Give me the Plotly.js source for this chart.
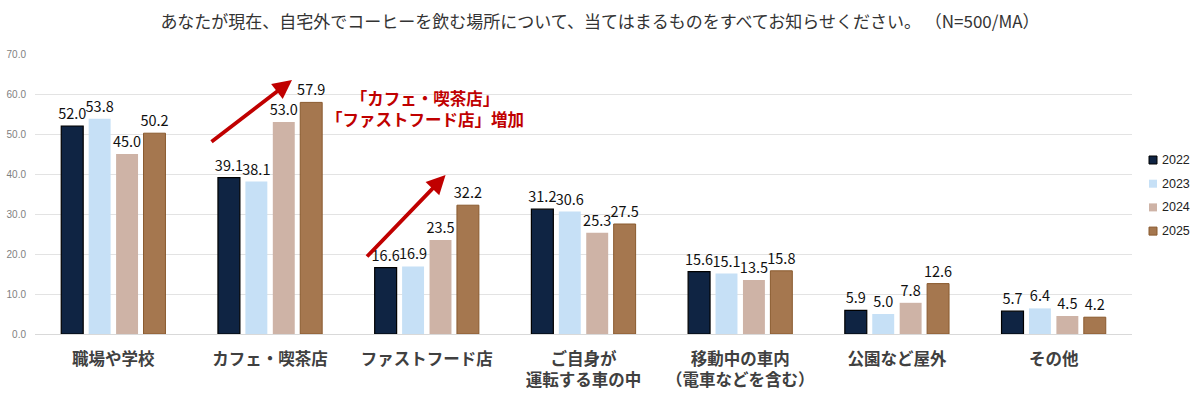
<!DOCTYPE html>
<html><head><meta charset="utf-8">
<script src="https://cdn.plot.ly/plotly-3.0.1.min.js"></script>
<style>html,body{margin:0;padding:0;background:#fff;}#chart{width:1200px;height:399px;}</style>
</head><body><div id="chart"></div>
<script>
const categories = ["職場や学校","カフェ・喫茶店","ファストフード店","ご自身が<br>運転する車の中","移動中の車内<br>（電車などを含む）","公園など屋外","その他"];
const years = ["2022","2023","2024","2025"];
const v2022 = [52.0,39.1,16.6,31.2,15.6,5.9,5.7];
const v2023 = [53.8,38.1,16.9,30.6,15.1,5.0,6.4];
const v2024 = [45.0,53.0,23.5,25.3,13.5,7.8,4.5];
const v2025 = [50.2,57.9,32.2,27.5,15.8,12.6,4.2];
const series = [v2022,v2023,v2024,v2025];
const colors = ["#0f2443","#c6e0f6","#ceb3a6","#a5774f"];
const lineColors = ["#000000","#c6e0f6","#ceb3a6","#8a5a2e"];
const lineWidths = [1.2,0,0,1];
const font = '"Noto Sans CJK JP","Noto Sans",sans-serif';

const W = 1200, H = 399, M = {l:35, r:68, t:54, b:65};
const pw = W - M.l - M.r, ph = H - M.t - M.b;

const traces = series.map((vals,i)=>({
  type:'bar', name:years[i], x:categories, y:vals, showlegend:false,
  marker:{color:colors[i], line:{color:lineColors[i], width:lineWidths[i]}},
  text:vals.map(v=>v.toFixed(1)), textposition:'outside', constraintext:'none', cliponaxis:false,
  textfont:{family:font, size:14.5, color:'#111'},
  hoverinfo:'skip'
}));

// manual legend built from years/colors
const legendShapes = [], legendAnns = [];
years.forEach((yr,i)=>{
  const cy = 160 + i*23.7;
  const px2x = px => (px - M.l)/pw;
  const py2y = py => (H - M.b - py)/ph;
  legendShapes.push({type:'rect', xref:'paper', yref:'paper', x0:px2x(1149), x1:px2x(1157), y0:py2y(cy+4), y1:py2y(cy-4),
    fillcolor:colors[i], line:{color:lineColors[i], width:lineWidths[i] ? 1 : 0}});
  legendAnns.push({xref:'paper', yref:'paper', x:px2x(1160), y:py2y(cy), xanchor:'left', yanchor:'middle', showarrow:false,
    text:yr, font:{family:'"Liberation Sans", Arial, sans-serif', size:12.5, color:'#222'}});
});

const layout = {
  width:W, height:H,
  margin:{l:M.l, r:M.r, t:M.t, b:M.b, autoexpand:false},
  paper_bgcolor:'#fff', plot_bgcolor:'#fff',
  font:{family:font},
  showlegend:false,
  title:{text:'あなたが現在、自宅外でコーヒーを飲む場所について、当てはまるものをすべてお知らせください。 （N=500/MA）',
    font:{family:font, size:17, color:'#333'}, x:0.5, xref:'container', xanchor:'center', y:0.945, yanchor:'middle'},
  barmode:'group', bargap:0.3, bargroupgap:0.2,
  xaxis:{tickfont:{family:font, size:16.5, color:'#404040', weight:'bold'}, showline:true, linecolor:'#d9d9d9', ticks:'', automargin:false, ticklabelstandoff:10},
  yaxis:{range:[0,70], dtick:10, tickformat:'.1f', tickfont:{family:'"Liberation Sans", Arial, sans-serif', size:10, color:'#7f7f7f'},
    gridcolor:'#e3e3e3', gridwidth:1, zeroline:false, ticks:'', automargin:false, ticklabelstandoff:8},
  shapes: legendShapes,
  annotations:[
    {x:1.14, y:63.5, xref:'x', yref:'y', ax:-82, ay:63, showarrow:true, arrowhead:2, arrowsize:1, arrowwidth:3.8, arrowcolor:'#c00000', text:''},
    {x:2.12, y:39.75, xref:'x', yref:'y', ax:-80, ay:83, showarrow:true, arrowhead:2, arrowsize:1, arrowwidth:3.8, arrowcolor:'#c00000', text:''},
    {x:1.99, y:56.3, xref:'x', yref:'y', showarrow:false, align:'center', text:'「カフェ・喫茶店」<br>「ファストフード店」増加',
      font:{family:font, size:16.5, color:'#c00000', weight:'bold'}}
  ].concat(legendAnns)
};
Plotly.newPlot('chart', traces, layout, {displayModeBar:false, staticPlot:true});
</script></body></html>
